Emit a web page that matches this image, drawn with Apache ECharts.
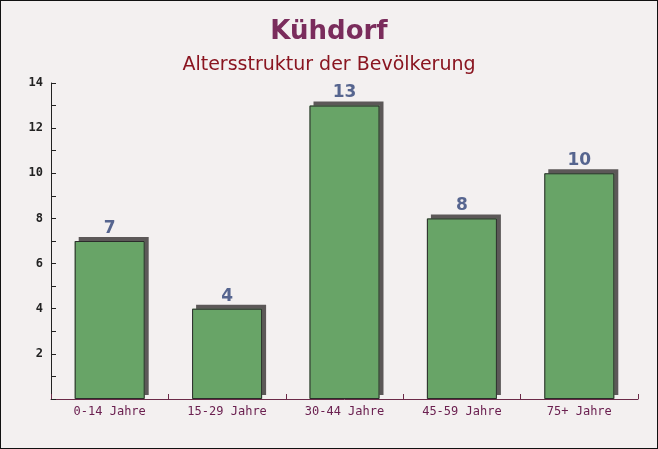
<!DOCTYPE html>
<html>
<head>
<meta charset="utf-8">
<script src="https://cdn.jsdelivr.net/npm/echarts@6/dist/echarts.min.js"></script>
<style>
  html, body { margin: 0; padding: 0; }
  #chart { width: 656px; height: 447px; border: 1px solid #111; background: #f3f0f0; }
</style>
</head>
<body>
<div id="chart"></div>
<script>
// Altersgruppen und Einwohnerzahlen
var categories = ['0-14 Jahre', '15-29 Jahre', '30-44 Jahre', '45-59 Jahre', '75+ Jahre'];
var values = [7, 4, 13, 8, 10];

var chart = echarts.init(document.getElementById('chart'));
chart.setOption({
  backgroundColor: '#f3f0f0',
  title: [
    {
      text: 'Kühdorf',
      left: 'center',
      top: 13,
      textStyle: { fontFamily: 'DejaVu Sans', fontSize: 26, fontWeight: 'bold', color: '#7a2c5c' }
    },
    {
      text: 'Altersstruktur der Bevölkerung',
      left: 'center',
      top: 50,
      textStyle: { fontFamily: 'DejaVu Sans', fontSize: 19, fontWeight: 'normal', color: '#8a1520' }
    }
  ],
  grid: { left: 50, right: 19, top: 82, bottom: 49 },
  xAxis: {
    type: 'category',
    data: categories,
    axisLine: { lineStyle: { color: '#6b2a48', width: 1 } },
    axisTick: { show: true, inside: true, length: 5, lineStyle: { color: '#6b2a48' } },
    axisLabel: { fontFamily: 'DejaVu Sans Mono', fontSize: 12, color: '#6b2050', margin: 7 }
  },
  yAxis: {
    type: 'value',
    min: 0,
    max: 14,
    interval: 2,
    splitLine: { show: false },
    axisLine: { show: true, lineStyle: { color: '#222', width: 1 } },
    axisTick: { show: true, inside: true, length: 5, lineStyle: { color: '#222' } },
    minorTick: { show: true, splitNumber: 2, length: 5, lineStyle: { color: '#222' } },
    axisLabel: {
      fontFamily: 'DejaVu Sans Mono', fontSize: 12, fontWeight: 'bold', color: '#222', margin: 8,
      formatter: function (v) { return v === 0 ? '' : v; }
    }
  },
  series: [
    {
      // Füllung mit Schatten
      type: 'bar',
      data: values,
      barWidth: 70,
      z: 2,
      itemStyle: {
        color: '#68a467',
        shadowColor: '#5c5858',
        shadowBlur: 0,
        shadowOffsetX: 4,
        shadowOffsetY: -4
      },
      label: {
        show: true,
        position: 'top',
        distance: 4,
        fontFamily: 'DejaVu Sans',
        fontSize: 17,
        fontWeight: 'bold',
        color: '#56658f'
      }
    },
    {
      // Rahmen ohne Schatten
      type: 'bar',
      data: values,
      barWidth: 70,
      barGap: '-100%',
      z: 3,
      silent: true,
      itemStyle: { color: 'rgba(0,0,0,0)', borderColor: '#2b2b2b', borderWidth: 1 }
    }
  ]
});
</script>
</body>
</html>
